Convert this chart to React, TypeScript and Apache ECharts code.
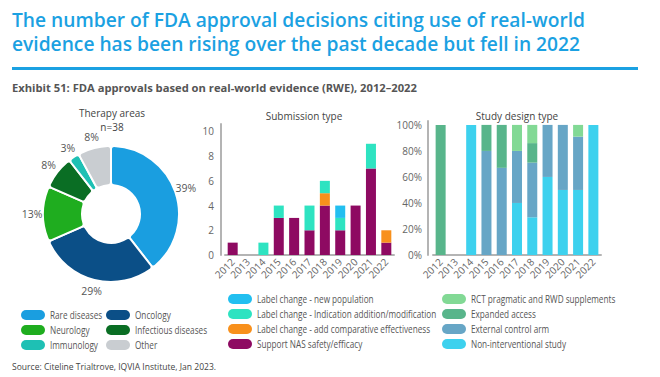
import React, { useEffect, useRef } from "react";
import * as echarts from "echarts";

const years = ["2012", "2013", "2014", "2015", "2016", "2017", "2018", "2019", "2020", "2021", "2022"];

const therapyAreas = ["Rare diseases", "Oncology", "Neurology", "Infectious diseases", "Immunology", "Other"];
const therapyCounts = [15, 11, 5, 3, 1, 3];
const therapyColors = ["#1a9ee0", "#0b4f87", "#1fad1f", "#0a6e24", "#1ec0b4", "#c9cdd1"];

const submissionTypes = [
  "Label change - new population",
  "Label change - Indication addition/modification",
  "Label change - add comparative effectiveness",
  "Support NAS safety/efficacy",
];
const submissionColors = ["#22bff0", "#2ee3c1", "#f8901c", "#8e0a62"];
const newPopulation = [0, 0, 0, 0, 0, 0, 0, 1, 0, 0, 0];
const indicationChange = [0, 0, 1, 1, 0, 2, 1, 1, 0, 2, 0];
const comparativeEff = [0, 0, 0, 0, 0, 0, 1, 0, 0, 0, 1];
const supportNAS = [1, 0, 0, 3, 3, 2, 4, 2, 4, 7, 1];
const submissionTicks = [0, 2, 4, 6, 8, 10];

const studyDesignTypes = [
  "RCT pragmatic and RWD supplements",
  "Expanded access",
  "External control arm",
  "Non-interventional study",
];
const studyColors = ["#82d995", "#58b58b", "#67a6c6", "#3dd1ee"];
const rctPragmatic = [0, 0, 0, 0, 0, 20, 14, 0, 0, 9, 0];
const expandedAccess = [100, 0, 0, 20, 33, 0, 15, 0, 0, 0, 0];
const externalControl = [0, 0, 0, 80, 67, 40, 42, 40, 50, 41, 0];
const nonInterventional = [0, 0, 100, 0, 0, 40, 29, 60, 50, 50, 100];
const studyTicks = [0, 20, 40, 60, 80, 100];

const titleLines = [
  "The number of FDA approval decisions citing use of real-world",
  "evidence has been rising over the past decade but fell in 2022",
];
const exhibitText = "Exhibit 51: FDA approvals based on real-world evidence (RWE), 2012\u20132022";
const sourceText = "Source: Citeline Trialtrove, IQVIA Institute, Jan 2023.";

const FONT = "'Open Sans', 'Noto Sans', sans-serif";
const AXIS_GREY = "#b4b4b4";
const LABEL_GREY = "#666666";

function legendItems(names: string[], colors: string[], x: number, y0: number, dy: number) {
  const out: any[] = [];
  names.forEach((n, i) => {
    const y = y0 + i * dy;
    out.push({
      type: "rect",
      shape: { x, y: y - 5, width: 24, height: 10, r: 5 },
      style: { fill: colors[i] },
      silent: true,
    });
    out.push({
      type: "text",
      x: x + 29,
      y,
      scaleX: 0.82,
      style: {
        text: n,
        fill: "#555555",
        font: `10px ${FONT}`,
        textVerticalAlign: "middle",
      },
      silent: true,
    });
  });
  return out;
}

export default function App() {
  const ref = useRef<HTMLDivElement>(null);

  useEffect(() => {
    if (!ref.current) return;
    const chart = echarts.init(ref.current, undefined, { renderer: "svg" });

    const graphic: any[] = [];
    titleLines.forEach((t, i) => {
      graphic.push({
        type: "text",
        x: 12,
        y: 29 + i * 24,
        scaleX: 0.96,
        style: {
          text: t,
          fill: "#1ba1e2",
          font: `600 20px ${FONT}`,
          textVerticalAlign: "bottom",
        },
      });
    });
    graphic.push({
      type: "rect",
      shape: { x: 12, y: 67, width: 626, height: 3 },
      style: { fill: "#1ba1e2" },
    });
    graphic.push({
      type: "text",
      x: 12,
      y: 87,
      style: { text: exhibitText, fill: "#555555", font: `bold 11.2px ${FONT}`, textVerticalAlign: "middle" },
    });
    graphic.push({
      type: "text",
      x: 112,
      y: 113,
      style: { text: "Therapy areas", fill: "#444444", font: `10px ${FONT}`, textAlign: "center", textVerticalAlign: "middle" },
    });
    graphic.push({
      type: "text",
      x: 112,
      y: 127,
      style: { text: "n=38", fill: "#444444", font: `10px ${FONT}`, textAlign: "center", textVerticalAlign: "middle" },
    });
    graphic.push({
      type: "text",
      x: 304,
      y: 116,
      style: { text: "Submission type", fill: "#444444", font: `10px ${FONT}`, textAlign: "center", textVerticalAlign: "middle" },
    });
    graphic.push({
      type: "text",
      x: 517,
      y: 116,
      style: { text: "Study design type", fill: "#444444", font: `10px ${FONT}`, textAlign: "center", textVerticalAlign: "middle" },
    });

    // therapy legend: two columns
    const col1 = [0, 2, 4];
    const col2 = [1, 3, 5];
    graphic.push(...legendItems(col1.map((i) => therapyAreas[i]), col1.map((i) => therapyColors[i]), 21, 315, 15));
    graphic.push(...legendItems(col2.map((i) => therapyAreas[i]), col2.map((i) => therapyColors[i]), 106, 315, 15));
    graphic.push(...legendItems(submissionTypes, submissionColors, 228, 299, 15));
    graphic.push(...legendItems(studyDesignTypes, studyColors, 442, 299, 15));

    graphic.push({
      type: "text",
      x: 12,
      y: 367,
      scaleX: 0.95,
      style: { text: sourceText, fill: "#444444", font: `9px ${FONT}`, textVerticalAlign: "middle" },
    });

    const axisCommon = {
      axisLine: { show: true, lineStyle: { color: AXIS_GREY, width: 2 } },
      axisTick: { show: false },
      splitLine: { show: false },
    };

    const pieData = therapyAreas.map((n, i) => ({
      name: n,
      value: therapyCounts[i],
      itemStyle: { color: therapyColors[i] },
    }));

    const option: any = {
      animation: false,
      textStyle: { fontFamily: FONT },
      graphic,
      grid: [
        { left: 225, top: 124, width: 169, height: 131 },
        { left: 433, top: 121, width: 168, height: 134 },
      ],
      xAxis: [0, 1].map((gi) => ({
        type: "category",
        gridIndex: gi,
        data: years,
        ...axisCommon,
        axisLabel: { rotate: 45, color: LABEL_GREY, fontSize: 10, margin: 5, interval: 0, fontFamily: FONT },
      })),
      yAxis: [
        {
          type: "value",
          gridIndex: 0,
          min: 0,
          max: 10.6,
          interval: 2,
          offset: 4,
          ...axisCommon,
          axisLabel: {
            color: LABEL_GREY,
            fontSize: 10,
            margin: 7,
            fontFamily: FONT,
            formatter: (v: number) => (submissionTicks.includes(v) ? String(v) : ""),
          },
        },
        {
          type: "value",
          gridIndex: 1,
          min: 0,
          max: 103,
          interval: 20,
          offset: 5,
          ...axisCommon,
          axisLabel: {
            color: LABEL_GREY,
            fontSize: 10,
            margin: 6,
            fontFamily: FONT,
            formatter: (v: number) => (studyTicks.includes(v) ? v + "%" : ""),
          },
        },
      ],
      series: [
        {
          type: "pie",
          center: [111, 214],
          radius: [29, 68],
          startAngle: 90,
          clockwise: true,
          avoidLabelOverlap: false,
          itemStyle: { borderColor: "#ffffff", borderWidth: 2, borderRadius: 3 },
          label: { show: false },
          labelLine: { show: false },
          data: pieData,
        },
        {
          // transparent ring used only to place the percentage labels
          type: "pie",
          center: [111, 214],
          radius: [68, 84],
          startAngle: 90,
          clockwise: true,
          silent: true,
          avoidLabelOverlap: false,
          itemStyle: { color: "rgba(0,0,0,0)", borderWidth: 0 },
          label: {
            show: true,
            position: "inside",
            color: "#555555",
            fontSize: 10.5,
            fontFamily: FONT,
            formatter: (p: any) => Math.round(p.percent) + "%",
          },
          labelLine: { show: false },
          emphasis: { disabled: true },
          data: pieData.map((d) => ({ name: d.name, value: d.value, itemStyle: { color: "rgba(0,0,0,0)" } })),
        },
        ...[
          [supportNAS, 3],
          [comparativeEff, 2],
          [indicationChange, 1],
          [newPopulation, 0],
        ].map(([d, idx]: any) => ({
          type: "bar",
          name: submissionTypes[idx],
          xAxisIndex: 0,
          yAxisIndex: 0,
          stack: "sub",
          barWidth: 10,
          itemStyle: { color: submissionColors[idx] },
          data: d,
        })),
        ...[
          [nonInterventional, 3],
          [externalControl, 2],
          [expandedAccess, 1],
          [rctPragmatic, 0],
        ].map(([d, idx]: any) => ({
          type: "bar",
          name: studyDesignTypes[idx],
          xAxisIndex: 1,
          yAxisIndex: 1,
          stack: "study",
          barWidth: 10,
          itemStyle: { color: studyColors[idx] },
          data: d,
        })),
      ],
    };

    chart.setOption(option);
    return () => chart.dispose();
  }, []);

  return (
    <div
      ref={ref}
      style={{ position: "fixed", left: 0, top: 0, width: 660, height: 377, background: "#ffffff" }}
    />
  );
}
